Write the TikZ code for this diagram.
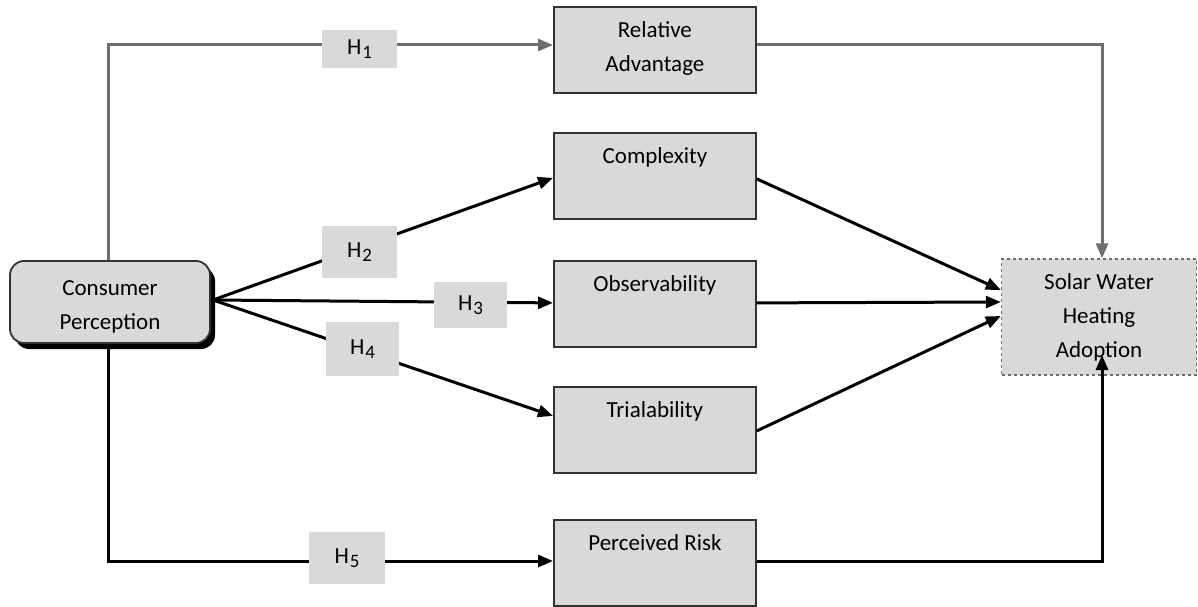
\documentclass[tikz,border=0pt]{standalone}
\usepackage{fontspec}
\setmainfont{Carlito}
\usetikzlibrary{arrows.meta}
\definecolor{boxfill}{HTML}{D9D9D9}
\definecolor{edgegray}{HTML}{6E6E6E}
\tikzset{
  every node/.style={font=\fontsize{23}{34}\selectfont},
  factor/.style={draw=black!80, line width=1.8pt, fill=boxfill, minimum width=202pt, minimum height=86pt, anchor=north west, inner sep=0pt},
  toptext/.style={anchor=north, yshift=-15pt, align=center, inner sep=0pt},
  midtext/.style={anchor=center, yshift=-5pt, align=center, inner sep=0pt},
  hyp/.style={fill=boxfill, inner sep=0pt},
  conn/.style={line width=3pt, black},
  gconn/.style={line width=3pt, edgegray},
  tip/.style={-{Triangle[length=15pt,width=12pt]}},
}
\newcommand{\hlab}[1]{H\kern1pt\raisebox{-0.35ex}{\fontsize{19}{19}\selectfont #1}}
\begin{document}
\begin{tikzpicture}[x=1pt,y=-1pt]
\useasboundingbox (0,0) rectangle (1198,607);
% consumer perception with shadow
\fill[black, rounded corners=14pt] (15,267) rectangle (215,349);
\node[draw=black!80, line width=1.8pt, fill=boxfill, rounded corners=14pt, minimum width=200pt, minimum height=82pt, inner sep=0pt, label={[midtext]center:Consumer\\Perception}] (cp) at (110,302) {};
% factor boxes
\node[factor, label={[toptext]north:Relative\\Advantage}] (ra) at (553,6) {};
\node[factor, label={[toptext]north:Complexity}] (cx) at (553,132) {};
\node[factor, label={[toptext]north:Observability}] (ob) at (553,260) {};
\node[factor, label={[toptext]north:Trialability}] (tr) at (553,386) {};
\node[factor, label={[toptext]north:Perceived Risk}] (pr) at (553,519) {};
% outcome
\node[draw=edgegray, dashed, line width=1.4pt, fill=boxfill, minimum width=195pt, minimum height=116pt, align=center, inner sep=0pt] (sw) at (1099,317) {Solar Water\\Heating\\Adoption};
% coordinates
\coordinate (cpr) at (213,300);
\coordinate (c1) at (108,45);
\coordinate (c5) at (108,561);
\coordinate (c6) at (1102,45);
\coordinate (c7) at (1102,561);
% connectors from consumer perception
\draw[gconn, tip] (cp.north -| c1) -- (c1) -- (ra.west |- c1);
\draw[conn, tip] (cp.south -| c5) -- (c5) -- (pr.west |- c5);
\draw[conn, tip] (cpr) -- ([yshift=-2pt]cx.west);
\draw[conn, tip] (cpr) -- ([yshift=1pt]ob.west);
\draw[conn, tip] (cpr) -- ([yshift=14pt]tr.west);
% connectors to outcome
\draw[gconn, tip] (ra.east |- c6) -- (c6) -- (sw.north -| c6);
\draw[conn, tip] (pr.east |- c7) -- (c7) -- ([yshift=-38pt]sw.center -| c7);
\draw[conn, tip] ([yshift=-3pt]cx.east) -- ([yshift=27pt]sw.west);
\draw[conn, tip] ([yshift=1pt]ob.east) -- ([yshift=15pt]sw.west);
\draw[conn, tip] ([yshift=-1pt]tr.east) -- ([yshift=1pt]sw.west);
% hypothesis labels
\node[hyp, minimum width=75pt, minimum height=38pt] (h1) at (359.5,49) {\hlab{1}};
\node[hyp, minimum width=75pt, minimum height=52pt] (h2) at (359.5,252) {\hlab{2}};
\node[hyp, minimum width=73pt, minimum height=46pt] (h3) at (470.5,305) {\hlab{3}};
\node[hyp, minimum width=73pt, minimum height=54pt] (h4) at (362.5,349) {\hlab{4}};
\node[hyp, minimum width=76pt, minimum height=52pt] (h5) at (347,558) {\hlab{5}};
\end{tikzpicture}
\end{document}
